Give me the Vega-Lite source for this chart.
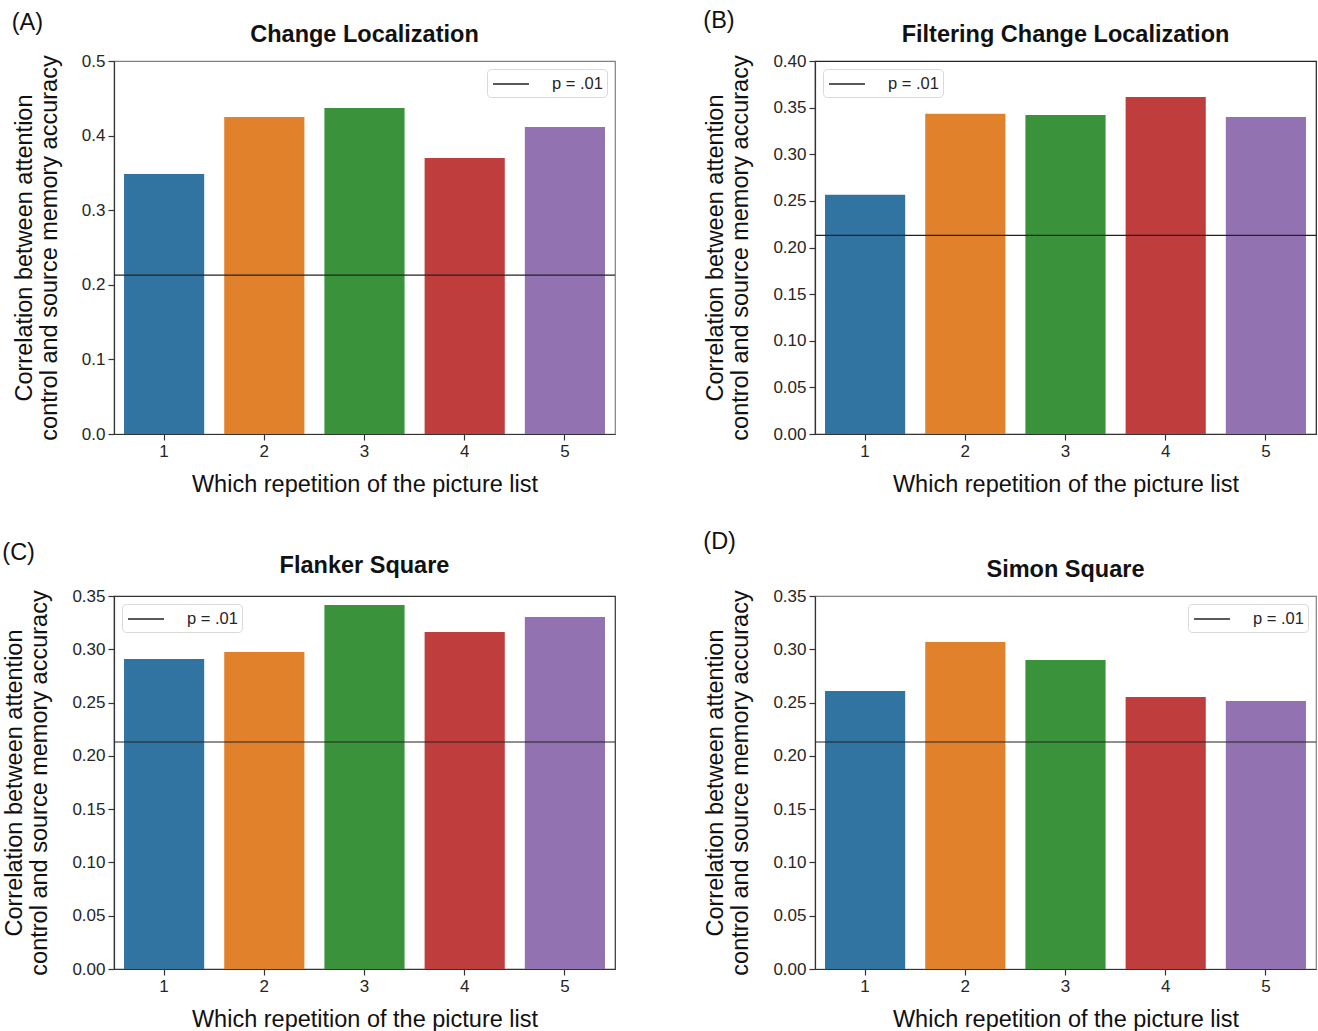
{
  "$schema": "https://vega.github.io/schema/vega-lite/v6.json",
  "padding": {"left": 2, "top": 9, "right": 0, "bottom": 0},
  "background": "white",
  "config": {
    "font": "Liberation Sans",
    "view": {"stroke": "#333333", "strokeWidth": 1.2},
    "axis": {
      "grid": false,
      "labelFontSize": 17,
      "labelColor": "#262626",
      "labelFont": "Liberation Sans",
      "tickColor": "#333333",
      "domainColor": "#333333",
      "tickSize": 6,
      "tickWidth": 1.2,
      "domainWidth": 1.2,
      "labelPadding": 3,
      "titleFontSize": 23.5,
      "titleFontWeight": "normal",
      "titleColor": "#111111",
      "titleFont": "Liberation Sans",
      "titleLimit": 1000
    },
    "title": {"fontSize": 23.5, "font": "Liberation Sans", "color": "#111111"},
    "legend": {
      "symbolType": "M-1.8,0H1.8",
      "symbolSize": 400,
      "symbolOffset": 9,
      "symbolStrokeWidth": 1.3,
      "labelFontSize": 16.5,
      "labelColor": "#262626",
      "labelFont": "Liberation Sans",
      "labelOffset": 30,
      "labelExpr": "datum.label + '\u00a0\u00a0\u00a0'",
      "strokeColor": "#d9d9d9",
      "fillColor": "white",
      "cornerRadius": 4,
      "padding": 4,
      "offset": 8,
      "title": null
    }
  },
  "datasets": {
    "bars": [
      {"panel": "A", "rep": "1", "r": 0.3485},
      {"panel": "A", "rep": "2", "r": 0.425},
      {"panel": "A", "rep": "3", "r": 0.437},
      {"panel": "A", "rep": "4", "r": 0.370},
      {"panel": "A", "rep": "5", "r": 0.4115},
      {"panel": "B", "rep": "1", "r": 0.2567},
      {"panel": "B", "rep": "2", "r": 0.3433},
      {"panel": "B", "rep": "3", "r": 0.3422},
      {"panel": "B", "rep": "4", "r": 0.3615},
      {"panel": "B", "rep": "5", "r": 0.340},
      {"panel": "C", "rep": "1", "r": 0.2909},
      {"panel": "C", "rep": "2", "r": 0.2975},
      {"panel": "C", "rep": "3", "r": 0.3416},
      {"panel": "C", "rep": "4", "r": 0.3162},
      {"panel": "C", "rep": "5", "r": 0.3303},
      {"panel": "D", "rep": "1", "r": 0.2609},
      {"panel": "D", "rep": "2", "r": 0.3068},
      {"panel": "D", "rep": "3", "r": 0.290},
      {"panel": "D", "rep": "4", "r": 0.2552},
      {"panel": "D", "rep": "5", "r": 0.2515}
    ],
    "thr": [
      {"panel": "A", "r": 0.213, "label": "p = .01"},
      {"panel": "B", "r": 0.213, "label": "p = .01"},
      {"panel": "C", "r": 0.213, "label": "p = .01"},
      {"panel": "D", "r": 0.213, "label": "p = .01"}
    ]
  },
  "columns": 2,
  "spacing": {"column": 86, "row": 33},
  "resolve": {"scale": {"stroke": "independent"}, "legend": {"stroke": "independent"}},
  "concat": [
    {
      "title": {"text": "(A)", "anchor": "start", "frame": "bounds", "fontWeight": "normal", "offset": -13},
      "resolve": {"scale": {"stroke": "independent"}, "legend": {"stroke": "independent"}},
      "vconcat": [{
        "width": 501, "height": 373,
        "title": {"text": "Change Localization", "offset": 6},
        "view": {"stroke": "#808080"},
        "encoding": {"y": {"field": "r", "type": "quantitative", "scale": {"domain": [0, 0.5]}, "axis": {"values": [0, 0.1, 0.2, 0.3, 0.4, 0.5], "format": ".1f", "titlePadding": 20, "titleLineHeight": 25, "title": ["Correlation between attention", "control and source memory accuracy"]}}},
        "layer": [
          {"data": {"name": "bars"}, "transform": [{"filter": "datum.panel === 'A'"}], "mark": "bar",
           "encoding": {
             "x": {"field": "rep", "type": "ordinal", "scale": {"paddingInner": 0.2, "paddingOuter": 0.1}, "axis": {"labelAngle": 0, "titlePadding": 13, "title": "Which repetition of the picture list"}},
             "fill": {"field": "rep", "type": "nominal", "scale": {"range": ["#3274a1", "#e1812c", "#3a923a", "#c03d3e", "#9372b2"]}, "legend": null}}},
          {"data": {"name": "thr"}, "transform": [{"filter": "datum.panel === 'A'"}], "mark": {"type": "rule", "strokeWidth": 1.2},
           "encoding": {"stroke": {"field": "label", "type": "nominal", "scale": {"range": ["#222222"]}, "legend": {"orient": "top-right"}}}}
        ]
      }]
    },
    {
      "title": {"text": "(B)", "anchor": "start", "frame": "bounds", "fontWeight": "normal", "offset": -11},
      "resolve": {"scale": {"stroke": "independent"}, "legend": {"stroke": "independent"}},
      "vconcat": [{
        "width": 501, "height": 373,
        "title": {"text": "Filtering Change Localization", "offset": 6},
        "view": {"stroke": "#222222"},
        "encoding": {"y": {"field": "r", "type": "quantitative", "scale": {"domain": [0, 0.4]}, "axis": {"values": [0, 0.05, 0.1, 0.15, 0.2, 0.25, 0.3, 0.35, 0.4], "format": ".2f", "titlePadding": 20, "titleLineHeight": 25, "title": ["Correlation between attention", "control and source memory accuracy"]}}},
        "layer": [
          {"data": {"name": "bars"}, "transform": [{"filter": "datum.panel === 'B'"}], "mark": "bar",
           "encoding": {
             "x": {"field": "rep", "type": "ordinal", "scale": {"paddingInner": 0.2, "paddingOuter": 0.1}, "axis": {"labelAngle": 0, "titlePadding": 13, "title": "Which repetition of the picture list"}},
             "fill": {"field": "rep", "type": "nominal", "scale": {"range": ["#3274a1", "#e1812c", "#3a923a", "#c03d3e", "#9372b2"]}, "legend": null}}},
          {"data": {"name": "thr"}, "transform": [{"filter": "datum.panel === 'B'"}], "mark": {"type": "rule", "strokeWidth": 1.2},
           "encoding": {"stroke": {"field": "label", "type": "nominal", "scale": {"range": ["#222222"]}, "legend": {"orient": "top-left"}}}}
        ]
      }]
    },
    {
      "title": {"text": "(C)", "anchor": "start", "frame": "bounds", "fontWeight": "normal", "offset": -12},
      "resolve": {"scale": {"stroke": "independent"}, "legend": {"stroke": "independent"}},
      "vconcat": [{
        "width": 501, "height": 373,
        "title": {"text": "Flanker Square", "offset": 10},
        "view": {"stroke": "#333333"},
        "encoding": {"y": {"field": "r", "type": "quantitative", "scale": {"domain": [0, 0.35]}, "axis": {"values": [0, 0.05, 0.1, 0.15, 0.2, 0.25, 0.3, 0.35], "format": ".2f", "titlePadding": 20, "titleLineHeight": 25, "title": ["Correlation between attention", "control and source memory accuracy"]}}},
        "layer": [
          {"data": {"name": "bars"}, "transform": [{"filter": "datum.panel === 'C'"}], "mark": "bar",
           "encoding": {
             "x": {"field": "rep", "type": "ordinal", "scale": {"paddingInner": 0.2, "paddingOuter": 0.1}, "axis": {"labelAngle": 0, "titlePadding": 13, "title": "Which repetition of the picture list"}},
             "fill": {"field": "rep", "type": "nominal", "scale": {"range": ["#3274a1", "#e1812c", "#3a923a", "#c03d3e", "#9372b2"]}, "legend": null}}},
          {"data": {"name": "thr"}, "transform": [{"filter": "datum.panel === 'C'"}], "mark": {"type": "rule", "strokeWidth": 1.2},
           "encoding": {"stroke": {"field": "label", "type": "nominal", "scale": {"range": ["#222222"]}, "legend": {"orient": "top-left"}}}}
        ]
      }]
    },
    {
      "title": {"text": "(D)", "anchor": "start", "frame": "bounds", "fontWeight": "normal", "offset": 3},
      "resolve": {"scale": {"stroke": "independent"}, "legend": {"stroke": "independent"}},
      "vconcat": [{
        "width": 501, "height": 373,
        "title": {"text": "Simon Square", "offset": 6},
        "view": {"stroke": "#808080"},
        "encoding": {"y": {"field": "r", "type": "quantitative", "scale": {"domain": [0, 0.35]}, "axis": {"values": [0, 0.05, 0.1, 0.15, 0.2, 0.25, 0.3, 0.35], "format": ".2f", "titlePadding": 20, "titleLineHeight": 25, "title": ["Correlation between attention", "control and source memory accuracy"]}}},
        "layer": [
          {"data": {"name": "bars"}, "transform": [{"filter": "datum.panel === 'D'"}], "mark": "bar",
           "encoding": {
             "x": {"field": "rep", "type": "ordinal", "scale": {"paddingInner": 0.2, "paddingOuter": 0.1}, "axis": {"labelAngle": 0, "titlePadding": 13, "title": "Which repetition of the picture list"}},
             "fill": {"field": "rep", "type": "nominal", "scale": {"range": ["#3274a1", "#e1812c", "#3a923a", "#c03d3e", "#9372b2"]}, "legend": null}}},
          {"data": {"name": "thr"}, "transform": [{"filter": "datum.panel === 'D'"}], "mark": {"type": "rule", "strokeWidth": 1.2},
           "encoding": {"stroke": {"field": "label", "type": "nominal", "scale": {"range": ["#222222"]}, "legend": {"orient": "top-right"}}}}
        ]
      }]
    }
  ]
}
